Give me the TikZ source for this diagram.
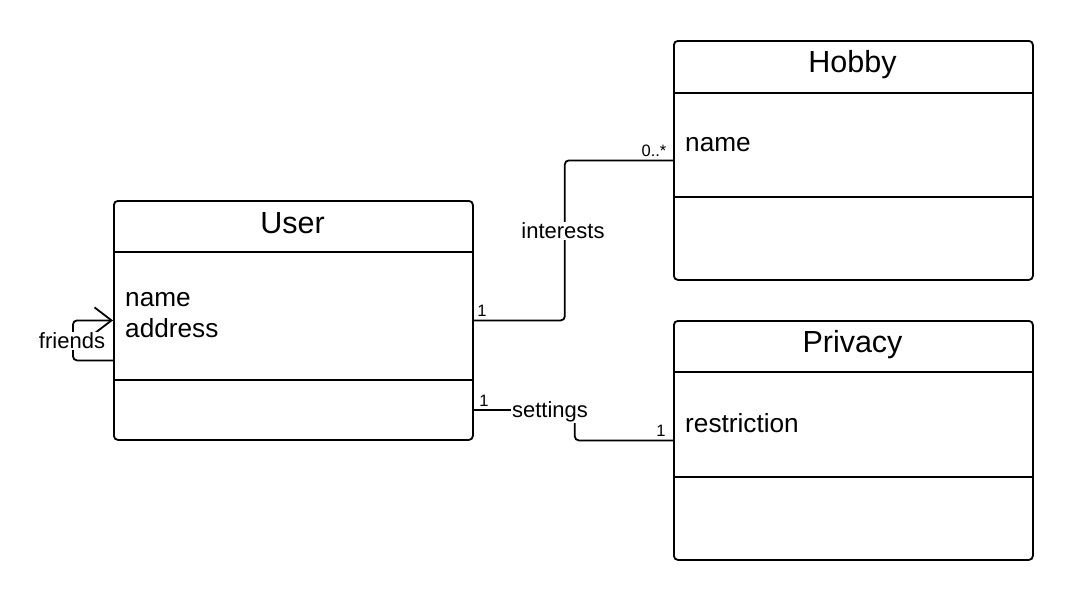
\documentclass[tikz,border=0pt]{standalone}
\usepackage{fontspec}
\setmainfont{Liberation Sans}
\usetikzlibrary{arrows.meta}
\begin{document}
\begin{tikzpicture}[x=1pt,y=-1pt,
  classbox/.style={draw, line width=1.8pt, rounded corners=4pt, minimum width=359pt, minimum height=239pt, inner sep=0pt, anchor=north west},
  divider/.style={line width=1.8pt},
  conn/.style={line width=1.8pt, rounded corners=4pt},
  titletext/.style={font=\fontsize{30.5}{36}\selectfont, inner sep=0pt},
  attrtext/.style={font=\fontsize{26.2}{31.5}\selectfont, inner sep=0pt, anchor=west, align=left},
  lbl/.style={font=\fontsize{22}{26}\selectfont, fill=white, inner sep=1pt},
  mult/.style={font=\fontsize{16.5}{20}\selectfont, inner sep=0pt}]
\useasboundingbox (0,0) rectangle (1073,600);
% boxes
\node[classbox] (user) at (113,200) {};
\node[classbox] (hobby) at (673,40) {};
\node[classbox] (privacy) at (673,320) {};
% dividers
\draw[divider] ([yshift=-52pt]user.north west) -- ([yshift=-52pt]user.north east);
\draw[divider] ([yshift=-180pt]user.north west) -- ([yshift=-180pt]user.north east);
\draw[divider] ([yshift=-53pt]hobby.north west) -- ([yshift=-53pt]hobby.north east);
\draw[divider] ([yshift=-157pt]hobby.north west) -- ([yshift=-157pt]hobby.north east);
\draw[divider] ([yshift=-52pt]privacy.north west) -- ([yshift=-52pt]privacy.north east);
\draw[divider] ([yshift=-157pt]privacy.north west) -- ([yshift=-157pt]privacy.north east);
% titles
\node[titletext] (usert) at (292.5,223) {User};
\node[titletext] (hobbyt) at (852.5,65) {Hobby};
\node[titletext] (privacyt) at (852.5,345) {Privacy};
% attributes
\node[attrtext] (usera) at (125,315) {name\\address};
\node[attrtext] (hobbya) at (685,145) {name};
\node[attrtext] (privacya) at (685,423) {restriction};
% interests
\draw[conn] (user.east) -- ++(91,0) |- (hobby.west);
\node[lbl] (interests) at (563,231) {interests};
\node[mult] (m1) at (482,311) {1};
\node[mult] (m2) at (654,151) {0..*};
% settings
\draw[conn] ([yshift=-89.5pt]user.east) -- ++(101,0) |- (privacy.west);
\node[lbl] (settings) at (550,412) {settings};
\node[mult] (m3) at (484,401) {1};
\node[mult] (m4) at (661,431) {1};
% friends
\draw[conn, -{Straight Barb[length=17pt,width=26pt]}] ([yshift=-40pt]user.west) -- ++(-40,0) |- (user.west);
\node[lbl] (friends) at (72,341) {friends};
\end{tikzpicture}
\end{document}
